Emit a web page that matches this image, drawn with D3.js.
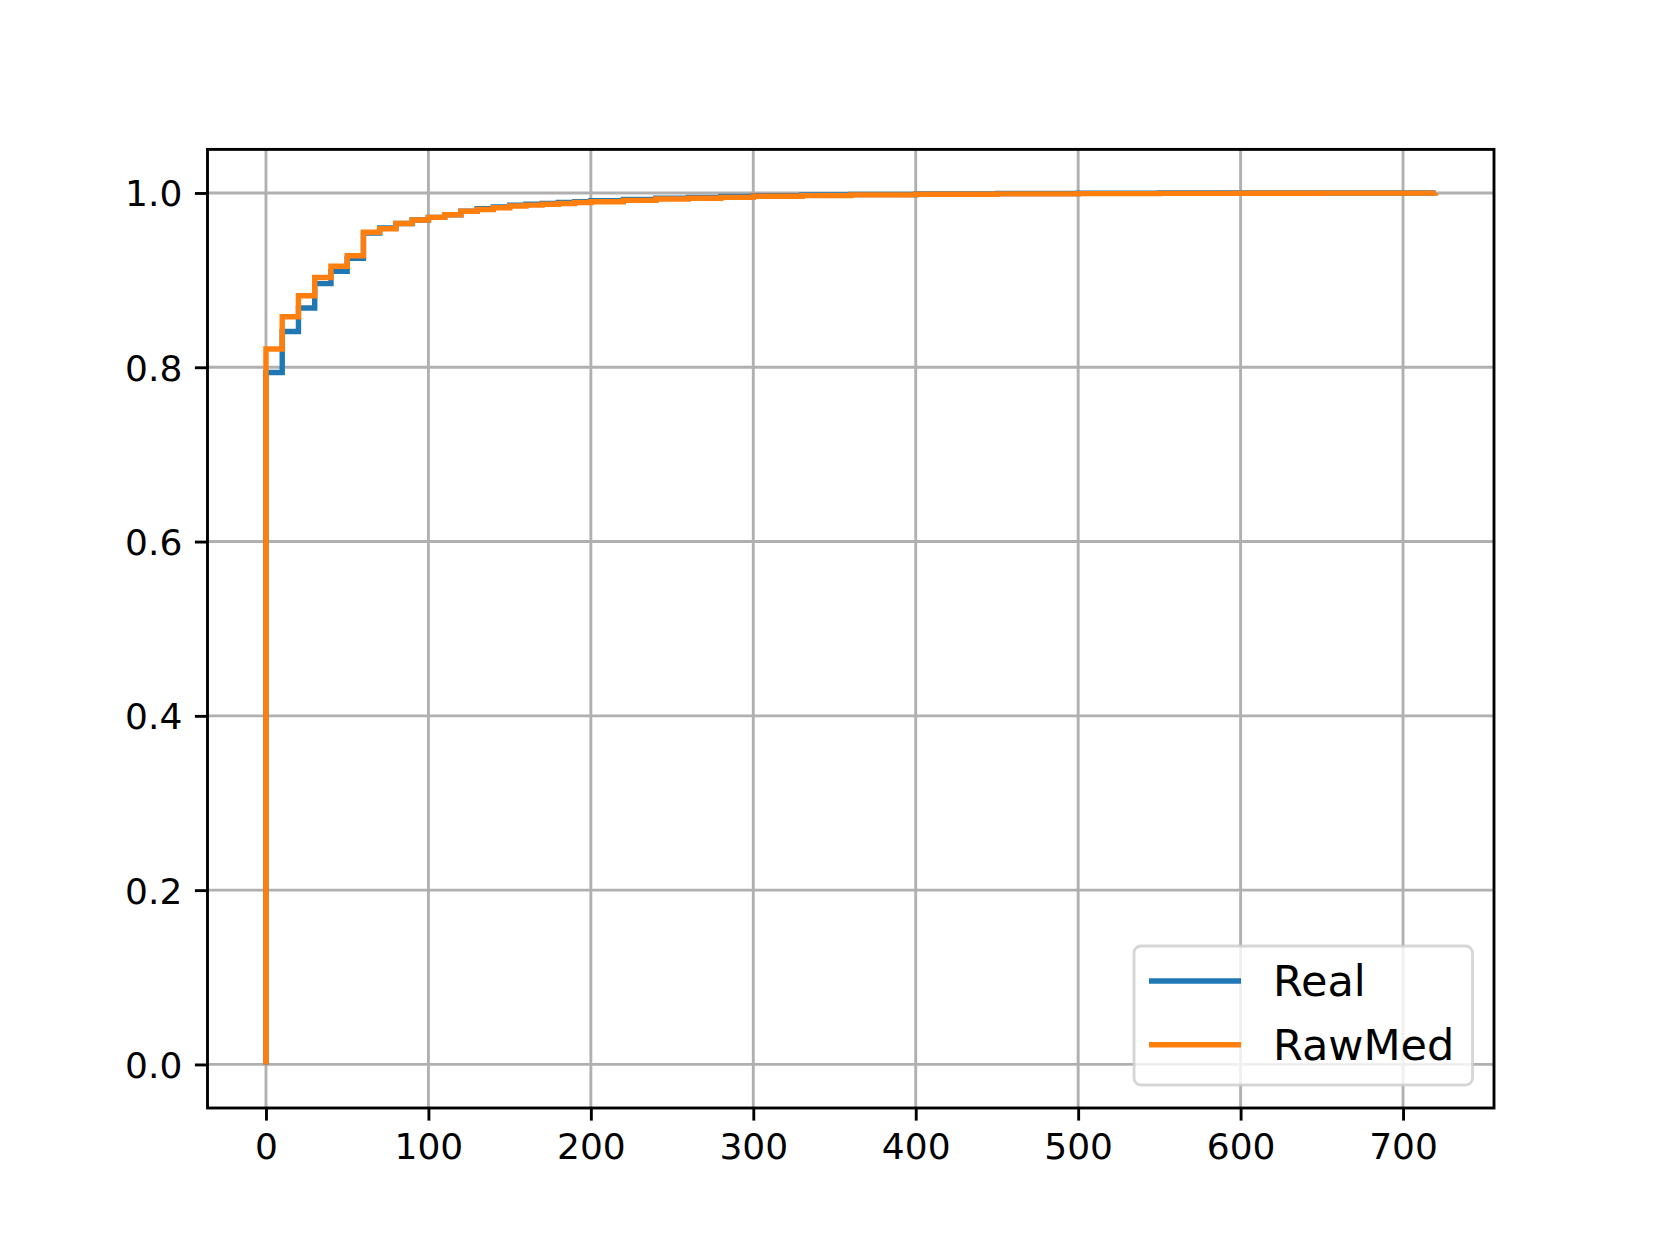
<!DOCTYPE html>
<html>
<head>
<meta charset="utf-8">
<script src="https://cdn.jsdelivr.net/npm/d3@7"></script>
<style>
html,body{margin:0;padding:0;background:#fff;}
svg{display:block;font-family:"DejaVu Sans",sans-serif;}
</style>
</head>
<body>
<svg id="chart" width="1660" height="1245"></svg>
<script>
// ---- data ----
const realX = [0, 0, 10, 20, 30, 40, 50, 60, 70, 80, 90, 100, 110, 120, 130, 140, 150, 160, 170, 180, 190, 200, 220, 240, 260, 280, 300, 330, 360, 400, 450, 500, 550, 600, 720];
const realY = [0, 0.794, 0.841, 0.868, 0.896, 0.910, 0.925, 0.954, 0.960, 0.965, 0.969, 0.972, 0.975, 0.979, 0.982, 0.984, 0.986, 0.987, 0.988, 0.989, 0.990, 0.991, 0.9925, 0.994, 0.995, 0.996, 0.997, 0.9977, 0.9983, 0.9989, 0.9994, 0.9997, 0.9999, 1.0, 1.0];
const rawMedX = [0, 0, 10, 20, 30, 40, 50, 60, 70, 80, 90, 100, 110, 120, 130, 140, 150, 160, 170, 180, 190, 200, 220, 240, 260, 280, 300, 330, 360, 400, 450, 500, 550, 600, 650, 720];
const rawMedY = [0, 0.821, 0.858, 0.882, 0.903, 0.916, 0.928, 0.955, 0.959, 0.965, 0.969, 0.972, 0.975, 0.979, 0.981, 0.983, 0.985, 0.986, 0.987, 0.988, 0.989, 0.990, 0.9915, 0.993, 0.994, 0.995, 0.9962, 0.997, 0.9978, 0.9985, 0.999, 0.9993, 0.9995, 0.9997, 0.9998, 1.0];
const seriesNames = ["Real", "RawMed"];
const seriesColors = ["#1f77b4", "#ff7f0e"];
const xTicks = [0, 100, 200, 300, 400, 500, 600, 700];
const yTicks = [0.0, 0.2, 0.4, 0.6, 0.8, 1.0];

// ---- layout ----
const L = 207.5, R = 1494, T = 149.4, B = 1108;
const svg = d3.select("#chart");
const x = d3.scaleLinear().domain([-36, 756]).range([L, R]);
const y = d3.scaleLinear().domain([-0.05, 1.05]).range([B, T]);
const lw = 2.88, gridC = "#b0b0b0";

// grid
const g = svg.append("g");
g.selectAll(".gx").data(xTicks).join("line")
  .attr("x1", d => x(d)).attr("x2", d => x(d)).attr("y1", T).attr("y2", B)
  .attr("stroke", gridC).attr("stroke-width", lw);
g.selectAll(".gy").data(yTicks).join("line")
  .attr("y1", d => y(d)).attr("y2", d => y(d)).attr("x1", L).attr("x2", R)
  .attr("stroke", gridC).attr("stroke-width", lw);

// series
const series = [
  d3.zip(realX, realY),
  d3.zip(rawMedX, rawMedY)
];
const line = d3.line().x(d => x(d[0])).y(d => y(d[1])).curve(d3.curveStepAfter);
series.forEach((s, i) => {
  svg.append("path").datum(s).attr("d", line)
    .attr("fill", "none").attr("stroke", seriesColors[i])
    .attr("stroke-width", 5.4).attr("stroke-linejoin", "miter").attr("stroke-linecap", "butt");
});

// axes
const xAxis = d3.axisBottom(x).tickValues(xTicks).tickSize(12.6).tickPadding(12.6).tickFormat(d3.format("d"));
const yAxis = d3.axisLeft(y).tickValues(yTicks).tickSize(12.6).tickPadding(12.6).tickFormat(d3.format(".1f"));
const gx = svg.append("g").attr("transform", `translate(0,${B})`).call(xAxis);
const gy = svg.append("g").attr("transform", `translate(${L},0)`).call(yAxis);
[gx, gy].forEach(a => {
  a.select(".domain").remove();
  a.selectAll(".tick line").attr("stroke", "#000").attr("stroke-width", lw);
  a.selectAll(".tick text").attr("fill", "#000").style("font-size", "36px").style("font-family", "'DejaVu Sans'");
});
gx.selectAll(".tick text").attr("dy", "0.71em");
gy.selectAll(".tick text").attr("dy", "0.36em");

// spines
svg.append("rect").attr("x", L).attr("y", T).attr("width", R - L).attr("height", B - T)
  .attr("fill", "none").attr("stroke", "#000").attr("stroke-width", lw);

// legend
const lg = svg.append("g");
lg.append("rect").attr("x", 1134).attr("y", 946).attr("width", 338.5).attr("height", 139)
  .attr("rx", 7).attr("ry", 7)
  .attr("fill", "#fff").attr("fill-opacity", 0.8)
  .attr("stroke", "#cccccc").attr("stroke-opacity", 0.8).attr("stroke-width", lw);
const legRows = [981, 1044.7];
seriesNames.forEach((n, i) => {
  lg.append("line").attr("x1", 1149).attr("x2", 1241).attr("y1", legRows[i]).attr("y2", legRows[i])
    .attr("stroke", seriesColors[i]).attr("stroke-width", 5.4);
  lg.append("text").attr("x", 1273).attr("y", legRows[i]).attr("dy", "0.36em")
    .style("font-size", "43px").attr("fill", "#000").text(n);
});
</script>
</body>
</html>
